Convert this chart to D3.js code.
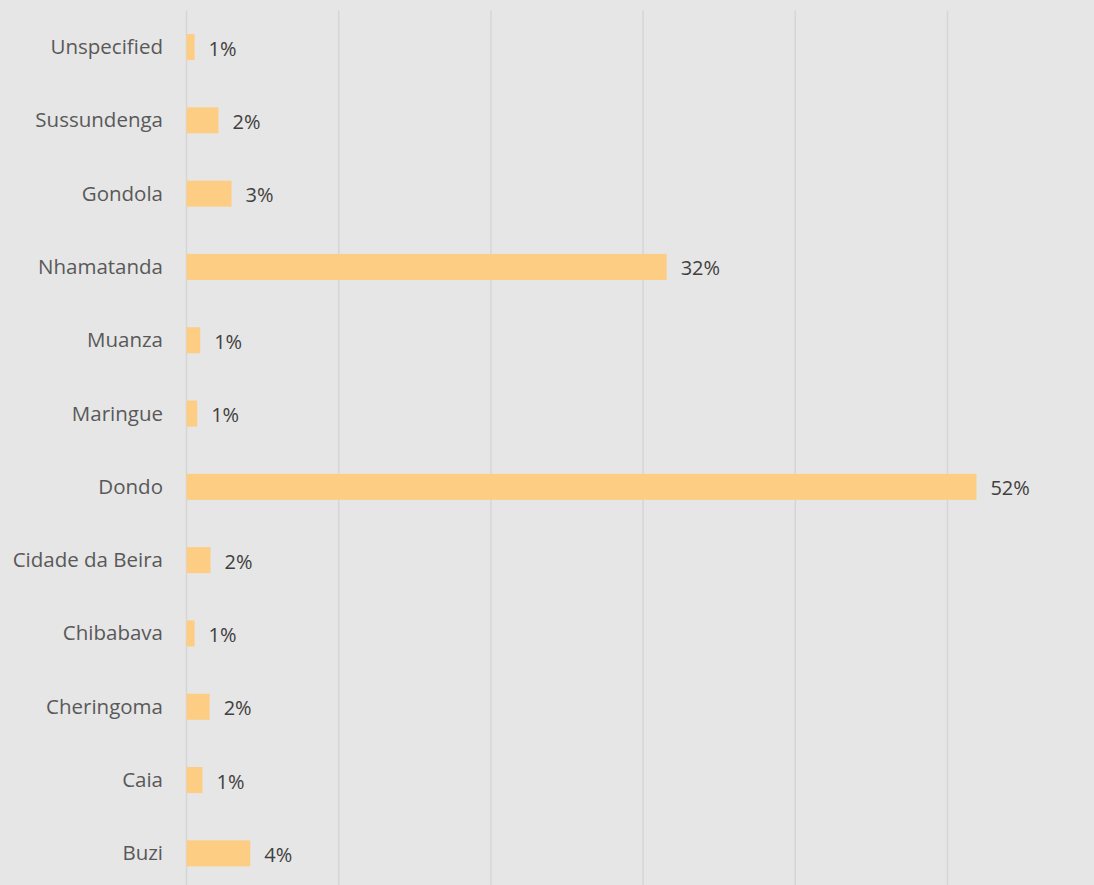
<!DOCTYPE html>
<html>
<head>
<meta charset="utf-8">
<script src="https://cdn.jsdelivr.net/npm/d3@7"></script>
<style>
  html, body { margin: 0; padding: 0; background: #e6e6e6; }
  svg { display: block; }
</style>
</head>
<body>
<svg id="chart" width="1094" height="885"></svg>
<script>
// Share of records by district (top to bottom as drawn)
const districts = [
  "Unspecified", "Sussundenga", "Gondola", "Nhamatanda", "Muanza", "Maringue",
  "Dondo", "Cidade da Beira", "Chibabava", "Cheringoma", "Caia", "Buzi"
];
const shares = [
  0.0053, 0.0210, 0.0296, 0.3155, 0.0090, 0.0070,
  0.5190, 0.0158, 0.0053, 0.0152, 0.0105, 0.0419
];
const gridTicks = [0, 0.1, 0.2, 0.3, 0.4, 0.5, 0.6];

const data = districts.map((d, i) => ({ name: d, value: shares[i] }));

const W = 1094, H = 885;
const margin = { top: 10.4, left: 186.5 };
const plotW = 913.2;
const plotH = 879.6;

const svg = d3.select("#chart");

svg.append("rect")
  .attr("width", W).attr("height", H)
  .attr("fill", "#e6e6e6");

const x = d3.scaleLinear().domain([0, 0.6]).range([margin.left, margin.left + plotW]);
const y = d3.scaleBand()
  .domain(districts)
  .range([margin.top, margin.top + plotH])
  .paddingInner(0.645)
  .paddingOuter(0.3225);

// vertical gridlines
svg.append("g")
  .selectAll("line")
  .data(gridTicks)
  .join("line")
  .attr("x1", d => x(d)).attr("x2", d => x(d))
  .attr("y1", margin.top).attr("y2", margin.top + plotH)
  .attr("stroke", "#d6d6d6")
  .attr("stroke-width", 1.5);

// bars
svg.append("g")
  .selectAll("rect")
  .data(data)
  .join("rect")
  .attr("x", x(0))
  .attr("y", d => y(d.name))
  .attr("width", d => x(d.value) - x(0))
  .attr("height", y.bandwidth())
  .attr("fill", "#fdcd84");

// category axis labels
const yAxis = d3.axisLeft(y).tickSize(0).tickPadding(0);
const yg = svg.append("g")
  .attr("transform", `translate(163,0)`)
  .call(yAxis);
yg.select(".domain").remove();
yg.selectAll("text")
  .attr("dy", null)
  .attr("y", 7)
  .attr("fill", "#595959")
  .style("font-family", "'Open Sans', sans-serif")
  .style("font-size", "20.5px");

// value labels
const fmt = d3.format(".0%");
svg.append("g")
  .selectAll("text")
  .data(data)
  .join("text")
  .attr("x", d => x(d.value) + 14)
  .attr("y", d => y(d.name) + y.bandwidth() / 2 + 8.5)
  .attr("fill", "#404040")
  .style("font-family", "'Open Sans', sans-serif")
  .style("font-size", "20px")
  .text(d => fmt(d.value));
</script>
</body>
</html>
